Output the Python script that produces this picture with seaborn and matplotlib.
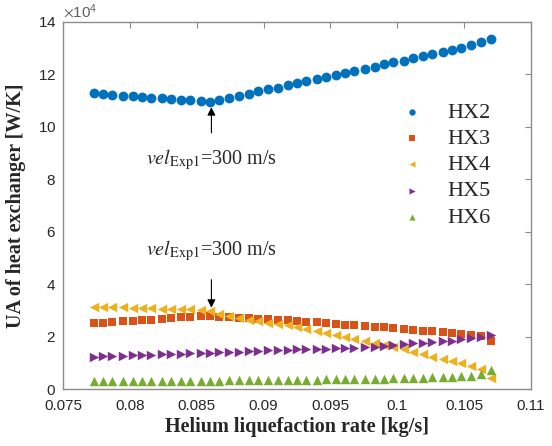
import numpy as np
import pandas as pd
import matplotlib
matplotlib.use("Agg")
import matplotlib.pyplot as plt
from matplotlib.ticker import ScalarFormatter, MultipleLocator, FuncFormatter
import seaborn as sns

# helium liquefaction rate [kg/s]
rate = [0.0773, 0.0780, 0.0787, 0.0795, 0.0802, 0.0809, 0.0816, 0.0824, 0.0831, 0.0838,
        0.0845, 0.0853, 0.0860, 0.0867, 0.0874, 0.0882, 0.0889, 0.0896, 0.0903, 0.0911,
        0.0918, 0.0925, 0.0932, 0.0940, 0.0947, 0.0954, 0.0961, 0.0968, 0.0976, 0.0983,
        0.0990, 0.0997, 0.1005, 0.1012, 0.1019, 0.1026, 0.1034, 0.1041, 0.1048, 0.1055,
        0.1063, 0.1070]

# UA values in units of 1e4 W/K
hx2 = [11.29, 11.25, 11.21, 11.19, 11.16, 11.14, 11.11, 11.09, 11.06, 11.03,
       11.01, 10.98, 10.95, 11.03, 11.11, 11.19, 11.27, 11.35, 11.43, 11.50,
       11.58, 11.66, 11.74, 11.82, 11.90, 11.97, 12.06, 12.14, 12.22, 12.30,
       12.38, 12.46, 12.53, 12.61, 12.69, 12.77, 12.85, 12.94, 13.02, 13.12,
       13.23, 13.36]
hx3 = [2.50, 2.53, 2.55, 2.58, 2.60, 2.63, 2.65, 2.68, 2.70, 2.73,
       2.75, 2.77, 2.78, 2.76, 2.74, 2.72, 2.70, 2.68, 2.66, 2.64,
       2.62, 2.60, 2.57, 2.54, 2.50, 2.48, 2.45, 2.43, 2.40, 2.37,
       2.35, 2.31, 2.29, 2.25, 2.22, 2.20, 2.17, 2.15, 2.11, 2.07,
       2.02, 1.84]
hx4 = [3.14, 3.13, 3.12, 3.11, 3.10, 3.09, 3.08, 3.07, 3.06, 3.05,
       3.04, 3.02, 2.97, 2.88, 2.80, 2.72, 2.65, 2.59, 2.53, 2.48,
       2.43, 2.35, 2.27, 2.21, 2.15, 2.06, 1.97, 1.89, 1.82, 1.75,
       1.68, 1.61, 1.51, 1.42, 1.32, 1.23, 1.16, 1.07, 0.98, 0.88,
       0.76, 0.42]
hx5 = [1.23, 1.24, 1.26, 1.27, 1.28, 1.30, 1.31, 1.32, 1.34, 1.35,
       1.36, 1.38, 1.39, 1.40, 1.42, 1.43, 1.44, 1.46, 1.47, 1.48,
       1.50, 1.51, 1.52, 1.53, 1.54, 1.55, 1.57, 1.58, 1.61, 1.62,
       1.65, 1.67, 1.70, 1.74, 1.76, 1.79, 1.82, 1.85, 1.89, 1.93,
       1.97, 2.06]
hx6 = [0.29, 0.29, 0.29, 0.30, 0.30, 0.30, 0.30, 0.31, 0.31, 0.31,
       0.31, 0.32, 0.32, 0.32, 0.33, 0.33, 0.33, 0.34, 0.34, 0.34,
       0.35, 0.35, 0.36, 0.36, 0.37, 0.37, 0.38, 0.38, 0.39, 0.39,
       0.40, 0.41, 0.41, 0.42, 0.43, 0.44, 0.45, 0.46, 0.48, 0.51,
       0.57, 0.73]

names = ["HX2", "HX3", "HX4", "HX5", "HX6"]
colors = ["#0072BD", "#D95319", "#EDB120", "#7E2F8E", "#77AC30"]
markers = ["o", "s", "<", ">", "^"]
sizes = [50, 32, 46, 46, 46]

df = pd.DataFrame({"rate": rate, "HX2": hx2, "HX3": hx3, "HX4": hx4, "HX5": hx5, "HX6": hx6})
long = df.melt(id_vars="rate", var_name="hx", value_name="ua")
long["ua"] = long["ua"] * 1e4

sns.set_style("white")
plt.rcParams["font.family"] = ["Liberation Sans", "DejaVu Sans"]
plt.rcParams["mathtext.fontset"] = "stix"

fig = plt.figure(figsize=(5.52, 4.46), dpi=100)
ax = fig.add_axes([0.1141, 0.1278, 0.8478, 0.8229])

for name, c, m, s in zip(names, colors, markers, sizes):
    sub = long[long["hx"] == name]
    sns.scatterplot(data=sub, x="rate", y="ua", ax=ax, color=c, marker=m, s=s,
                    linewidth=0, label=name, legend=False)

ax.set_xlim(0.075, 0.11)
ax.set_ylim(0, 14e4)
ax.xaxis.set_major_locator(MultipleLocator(0.005))
ax.yaxis.set_major_locator(MultipleLocator(2e4))
ax.xaxis.set_major_formatter(FuncFormatter(lambda v, p: f"{v:g}"))
fmt = ScalarFormatter(useMathText=True)
fmt.set_powerlimits((4, 4))
ax.yaxis.set_major_formatter(fmt)

gray = "#8c8c8c"
for sp in ax.spines.values():
    sp.set_color(gray)
    sp.set_linewidth(1.0)
ax.tick_params(direction="in", length=4, width=0.8, color=gray, labelsize=11,
               labelcolor="#262626", top=True, right=True)
ax.tick_params(axis="x", pad=7)
ax.tick_params(axis="y", pad=5)
ax.yaxis.get_offset_text().set_fontsize(11)
ax.yaxis.get_offset_text().set_color("#606060")

ax.set_xlabel("Helium liquefaction rate [kg/s]", fontfamily="Liberation Serif",
              fontweight="bold", fontsize=14.5, color="#262626", labelpad=3)
ax.set_ylabel("UA of heat exchanger [W/K]", fontfamily="Liberation Serif",
              fontweight="bold", fontsize=14.5, color="#262626", labelpad=8)

label = r"$\mathit{vel}_{\mathrm{Exp1}}$=300 m/s"
ax.annotate(label, xy=(0.0861, 10.75e4), xytext=(0.0861, 8.75e4),
            ha="center", va="center", fontsize=14.5, fontfamily="Liberation Serif",
            arrowprops=dict(arrowstyle="-|>", color="black", lw=0.8,
                            shrinkA=8, shrinkB=0, mutation_scale=12))
ax.annotate(label, xy=(0.0861, 3.1e4), xytext=(0.0861, 5.3e4),
            ha="center", va="center", fontsize=14.5, fontfamily="Liberation Serif",
            arrowprops=dict(arrowstyle="-|>", color="black", lw=0.8,
                            shrinkA=10, shrinkB=0, mutation_scale=12))

leg = ax.legend(loc="upper left", bbox_to_anchor=(0.655, 0.835), frameon=False,
                prop={"family": "Liberation Serif", "size": 16}, handletextpad=0.6,
                labelspacing=0.25, markerscale=0.65)

fig.savefig("out.png", dpi=100)
